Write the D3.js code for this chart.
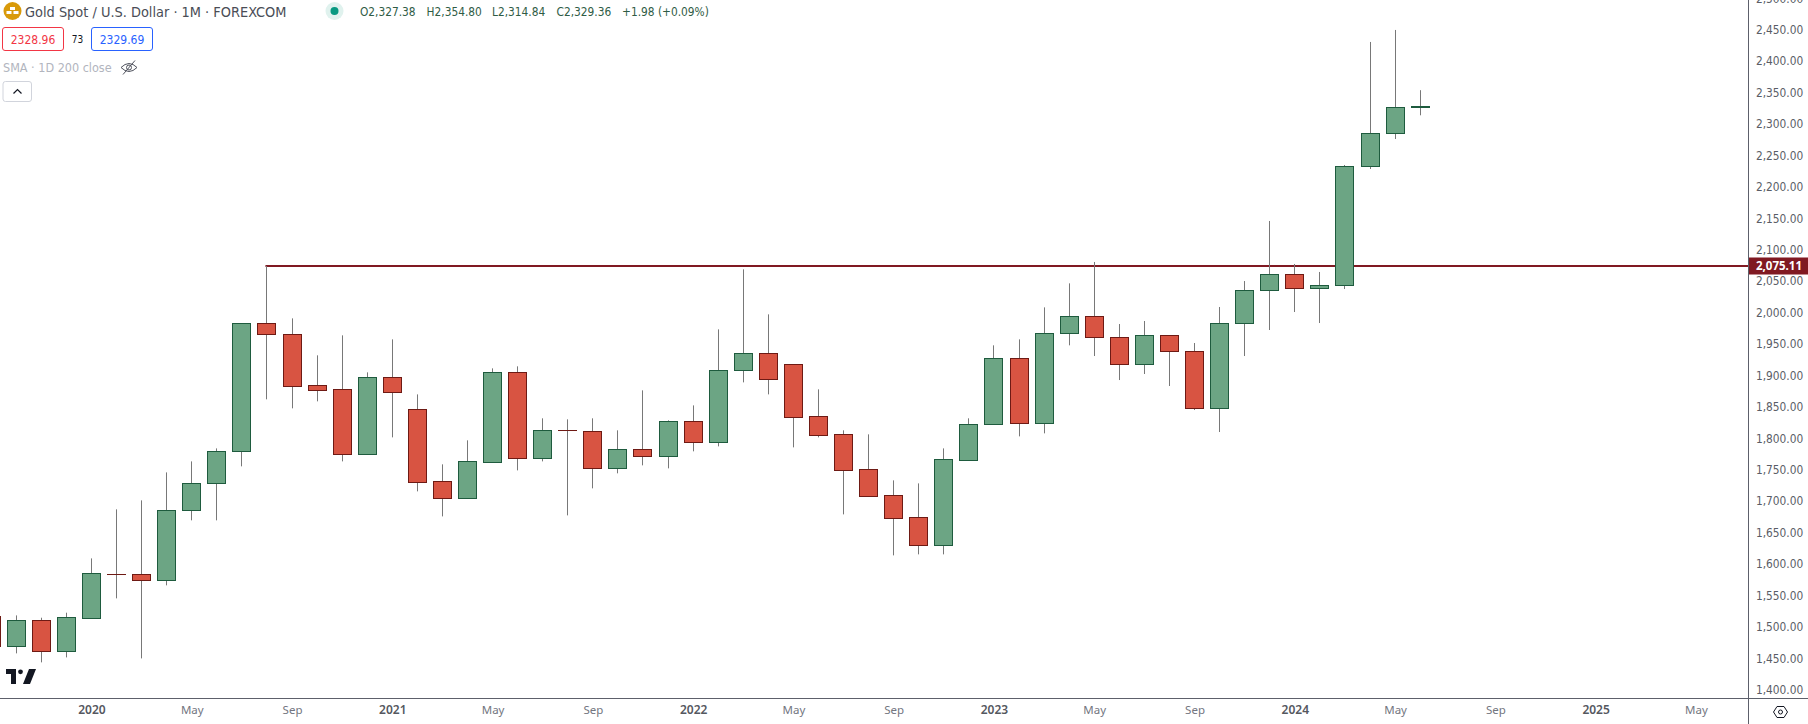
<!DOCTYPE html>
<html>
<head>
<meta charset="utf-8">
<script src="https://cdn.jsdelivr.net/npm/d3@7"></script>
<style>
  html, body { margin: 0; padding: 0; background: #fff; overflow: hidden; }
  text { font-family: "DejaVu Sans Condensed", "DejaVu Sans", sans-serif; font-stretch: condensed; }
</style>
</head>
<body>
<div id="chart"></div>
<script>
// Monthly candles, Sep 2019 to Jun 2024
const candleMonths = [
  "2019-09","2019-10","2019-11","2019-12",
  "2020-01","2020-02","2020-03","2020-04","2020-05","2020-06","2020-07","2020-08","2020-09","2020-10","2020-11","2020-12",
  "2021-01","2021-02","2021-03","2021-04","2021-05","2021-06","2021-07","2021-08","2021-09","2021-10","2021-11","2021-12",
  "2022-01","2022-02","2022-03","2022-04","2022-05","2022-06","2022-07","2022-08","2022-09","2022-10","2022-11","2022-12",
  "2023-01","2023-02","2023-03","2023-04","2023-05","2023-06","2023-07","2023-08","2023-09","2023-10","2023-11","2023-12",
  "2024-01","2024-02","2024-03","2024-04","2024-05","2024-06"
];
// empty months to the right of the last candle
const futureMonths = [
  "2024-07","2024-08","2024-09","2024-10","2024-11","2024-12",
  "2025-01","2025-02","2025-03","2025-04","2025-05"
];
const opens = [
  1517.8,1470.6,1510.9,1462.6,
  1515.1,1584.1,1584.1,1575.6,1685.9,1728.8,1779.7,1983.4,1966.9,1884.7,1878.4,1776,
  1897.4,1846.5,1732,1706,1763.3,1905.4,1769.6,1813.1,1811.5,1753.7,1782.9,1772.8,
  1827.4,1795.1,1908.1,1935.6,1918.1,1835.4,1806.8,1751,1709.7,1674.7,1631.2,1766.5,
  1822.2,1927.7,1825.3,1967,1995,1961.6,1918.1,1964.8,1939.3,1848.1,1983.9,2036.4,
  2061.8,2039,2043.8,2233.1,2285.6,2327.38
];
const highs = [
  1535,1519.3,1515.6,1523.6,
  1610,1688,1702.3,1746.8,1764.3,1785,1983.4,2075.1,1991.8,1933,1964.8,1905.9,
  1958.4,1870.9,1759.6,1797.8,1912.3,1915.5,1832.8,1831.2,1832.8,1813.7,1877.3,1829.6,
  1853.4,1974.3,2069.8,1998.2,1918.1,1878.9,1813.7,1807.3,1734.1,1729.3,1785,1832.8,
  1948.9,1958.4,2009.3,2047.5,2081.5,1982.8,1987.6,1964.8,1952.6,2009.9,2051.2,2146.7,
  2078.3,2065.6,2235.8,2431.5,2450.6,2354.8
];
const lows = [
  1465,1458.9,1444.6,1452.5,
  1515.1,1546.4,1450.9,1567.1,1670.5,1670.5,1756.4,1863,1848.7,1859.8,1764.3,1776,
  1802.5,1716.6,1676.8,1706,1763.3,1750,1764.3,1678.4,1721.4,1745.3,1758,1753.2,
  1780.3,1788.2,1890,1870.9,1786.6,1802.5,1680,1709.2,1614.8,1616.4,1616.4,1766.5,
  1822.2,1804.1,1808.9,1948.9,1931.9,1893.7,1903.3,1884.2,1846,1811,1931.9,1973.3,
  2001.9,1984.4,2038.5,2229.4,2277.1,2314.84
];
const closes = [
  1470.6,1510.9,1462.6,1515.6,
  1585.6,1584,1575.6,1685.9,1728.8,1779.7,1983.4,1966.9,1884.2,1877.8,1776,1897.4,
  1874.6,1731.5,1706,1763.8,1905.4,1769.6,1813.1,1813,1753.7,1782.9,1772.8,1827.4,
  1795.1,1908.6,1935.6,1895.3,1834.9,1806.2,1750.6,1709.2,1674.2,1631.2,1767,1822.7,
  1927.7,1825.3,1967.4,1994.5,1961.1,1918.1,1964.8,1938.8,1848.1,1983.9,2036.4,2061.8,
  2039,2044.3,2233.7,2286.2,2327.5,2329.36
];

const levelPrice = 2075.11;
const levelStart = "2020-08";
const levelLabel = "2,075.11";

const priceTicks = [1400,1450,1500,1550,1600,1650,1700,1750,1800,1850,1900,1950,2000,2050,2100,2150,2200,2250,2300,2350,2400,2450,2500];
const monthTicks = ["2020-01","2020-05","2020-09","2021-01","2021-05","2021-09","2022-01","2022-05","2022-09","2023-01","2023-05","2023-09","2024-01","2024-05","2024-09","2025-01","2025-05"];
const monthTickLabels = ["2020","May","Sep","2021","May","Sep","2022","May","Sep","2023","May","Sep","2024","May","Sep","2025","May"];

const drawChart = () => {
  const width = 1808;
  const height = 724;
  const paneRight = 1748.5;
  const paneBottom = 698.5;

  const upFill = "#6ca584", upStroke = "#1e5b3e";
  const downFill = "#d85442", downStroke = "#6e1a14";
  const levelColor = "#801922";
  const axisColor = "#5d606b";

  const svg = d3.select("#chart")
    .append("svg")
    .attr("width", width)
    .attr("height", height)
    .style("display", "block");

  const allMonths = candleMonths.concat(futureMonths);
  const xScale = d3.scalePoint()
    .domain(allMonths)
    .range([-8.8, 1695.9]);

  const yScale = d3.scaleLinear()
    .domain([1400, 2500])
    .range([690.4, -1.1]);

  const candles = candleMonths.map((m, i) => ({
    month: m, open: opens[i], high: highs[i], low: lows[i], close: closes[i]
  }));

  // level line sits under the candles
  svg.append("line")
    .attr("x1", xScale(levelStart) - 1.5)
    .attr("x2", paneRight)
    .attr("y1", yScale(levelPrice))
    .attr("y2", yScale(levelPrice))
    .attr("stroke", levelColor)
    .attr("stroke-width", 2);

  const candle = svg.append("g")
    .selectAll("g")
    .data(candles)
    .join("g");

  const snap = v => Math.floor(v) + 0.5;

  candle.append("line")
    .attr("x1", d => snap(xScale(d.month)))
    .attr("x2", d => snap(xScale(d.month)))
    .attr("y1", d => yScale(d.high))
    .attr("y2", d => yScale(d.low))
    .attr("stroke", "#787878")
    .attr("stroke-width", 1);

  candle.append("rect")
    .attr("x", d => snap(xScale(d.month)) - 9)
    .attr("width", 18)
    .attr("y", d => snap(yScale(Math.max(d.open, d.close))))
    .attr("height", d => Math.max(0.01, snap(yScale(Math.min(d.open, d.close))) - snap(yScale(Math.max(d.open, d.close)))))
    .attr("fill", d => d.close >= d.open ? upFill : downFill)
    .attr("stroke", d => d.close >= d.open ? upStroke : downStroke)
    .attr("stroke-width", 1);

  // Price axis
  const rightAxis = d3.axisRight(yScale)
    .tickValues(priceTicks)
    .tickSize(0)
    .tickPadding(7.5)
    .tickFormat(d3.format(",.2f"));

  const priceAxis = svg.append("g")
    .attr("transform", `translate(${paneRight}, 0)`)
    .call(rightAxis);
  priceAxis.select(".domain").remove();
  priceAxis.selectAll("text")
    .attr("dy", "0.27em")
    .attr("font-size", 11.8)
    .attr("fill", "#5a5d66")
    .style("font-family", null);

  svg.append("rect")
    .attr("x", paneRight)
    .attr("y", yScale(levelPrice) - 8.5)
    .attr("width", width - paneRight)
    .attr("height", 17)
    .attr("fill", levelColor);
  svg.append("text")
    .text(levelLabel)
    .attr("x", paneRight + 7.5)
    .attr("y", yScale(levelPrice) + 4)
    .attr("font-size", 11.5)
    .attr("font-weight", 700)
    .attr("fill", "#fff")
    .style("font-family", '"Noto Sans", sans-serif');

  // Time axis
  const bottomAxis = d3.axisBottom(xScale)
    .tickValues(monthTicks)
    .tickSize(0)
    .tickPadding(7)
    .tickFormat((d, i) => monthTickLabels[i]);

  const timeAxis = svg.append("g")
    .attr("transform", `translate(0, ${paneBottom})`)
    .call(bottomAxis);
  timeAxis.select(".domain").remove();
  timeAxis.selectAll("text")
    .attr("font-size", (d, i) => /^\d/.test(monthTickLabels[i]) ? 12 : 11.5)
    .attr("font-weight", (d, i) => /^\d/.test(monthTickLabels[i]) ? 600 : 400)
    .attr("fill", (d, i) => /^\d/.test(monthTickLabels[i]) ? "#55585f" : "#73767f")
    .style("font-family", '"Noto Sans", sans-serif');

  svg.append("line")
    .attr("x1", paneRight).attr("x2", paneRight)
    .attr("y1", 0).attr("y2", height)
    .attr("stroke", axisColor);
  svg.append("line")
    .attr("x1", 0).attr("x2", width)
    .attr("y1", paneBottom).attr("y2", paneBottom)
    .attr("stroke", axisColor);

  // Settings hexagon in the corner
  const gear = svg.append("g").attr("transform", "translate(1780.5, 712)");
  gear.append("path")
    .attr("d", "M-7,0 L-3.5,-5.5 L3.5,-5.5 L7,0 L3.5,5.5 L-3.5,5.5 Z")
    .attr("fill", "none").attr("stroke", "#131722");
  gear.append("circle").attr("r", 2).attr("fill", "none").attr("stroke", "#131722");

  // Header
  const coin = svg.append("g").attr("transform", "translate(12.5, 11)");
  coin.append("circle").attr("r", 9).attr("fill", "#d99a0a");
  coin.append("rect").attr("x", -2.5).attr("y", -4).attr("width", 5).attr("height", 3).attr("fill", "#fff");
  coin.append("rect").attr("x", -6).attr("y", 0).attr("width", 5).attr("height", 3).attr("fill", "#fff");
  coin.append("rect").attr("x", 1).attr("y", 0).attr("width", 5).attr("height", 3).attr("fill", "#fff");

  svg.append("text")
    .text("Gold Spot / U.S. Dollar · 1M · FOREXCOM")
    .attr("x", 25).attr("y", 16.5)
    .attr("font-size", 14.4)
    .attr("fill", "#4a4d56");

  svg.append("circle").attr("cx", 334.5).attr("cy", 11).attr("r", 9).attr("fill", "#e0f2ee");
  svg.append("circle").attr("cx", 334.5).attr("cy", 11).attr("r", 4).attr("fill", "#089981");

  const ohlc = [
    { x: 360, t: "O2,327.38" },
    { x: 426.6, t: "H2,354.80" },
    { x: 492, t: "L2,314.84" },
    { x: 556.5, t: "C2,329.36" },
    { x: 622, t: "+1.98 (+0.09%)" }
  ];
  svg.append("g").selectAll("text")
    .data(ohlc)
    .join("text")
    .text(d => d.t)
    .attr("x", d => d.x)
    .attr("y", 15.5)
    .attr("font-size", 11.8)
    .attr("fill", "#2f5c45");

  const priceBox = (x, w, label, color) => {
    svg.append("rect")
      .attr("x", x).attr("y", 27.5).attr("width", w).attr("height", 23).attr("rx", 2.5)
      .attr("fill", "#fff").attr("stroke", color);
    svg.append("text")
      .text(label)
      .attr("x", x + w / 2).attr("y", 43.5)
      .attr("text-anchor", "middle")
      .attr("font-size", 12)
      .attr("fill", color);
  };
  priceBox(2.5, 61, "2328.96", "#f23645");
  priceBox(91.5, 61, "2329.69", "#2962ff");
  svg.append("text").text("73")
    .attr("x", 77.5).attr("y", 43)
    .attr("text-anchor", "middle")
    .attr("font-size", 10)
    .attr("fill", "#131722");

  svg.append("text")
    .text("SMA · 1D 200 close")
    .attr("x", 3).attr("y", 72)
    .attr("font-size", 12.5)
    .attr("fill", "#b2b5be");

  const eye = svg.append("g").attr("transform", "translate(129, 67.5)")
    .attr("fill", "none").attr("stroke", "#50535e");
  eye.append("path").attr("d", "M-8,0 Q0,-8 8,0 Q0,8 -8,0 Z");
  eye.append("circle").attr("r", 2.5);
  eye.append("line").attr("x1", -6).attr("y1", 7).attr("x2", 6).attr("y2", -7);

  svg.append("rect")
    .attr("x", 3).attr("y", 81.5).attr("width", 28.5).attr("height", 20).attr("rx", 2.5)
    .attr("fill", "#fff").attr("stroke", "#d1d4dc");
  svg.append("path")
    .attr("d", "M13.5,93.5 L17.5,89.5 L21.5,93.5")
    .attr("fill", "none").attr("stroke", "#131722").attr("stroke-width", 1.2);

  // TradingView mark
  const logo = svg.append("g").attr("transform", "translate(6, 669)").attr("fill", "#131722");
  logo.append("path").attr("d", "M0,0 H10 V15 H5 V5 H0 Z");
  logo.append("circle").attr("cx", 14.5).attr("cy", 2.8).attr("r", 2.4);
  logo.append("path").attr("d", "M23,0 H30 L24,15 H17 Z");
};

drawChart();
</script>
</body>
</html>
